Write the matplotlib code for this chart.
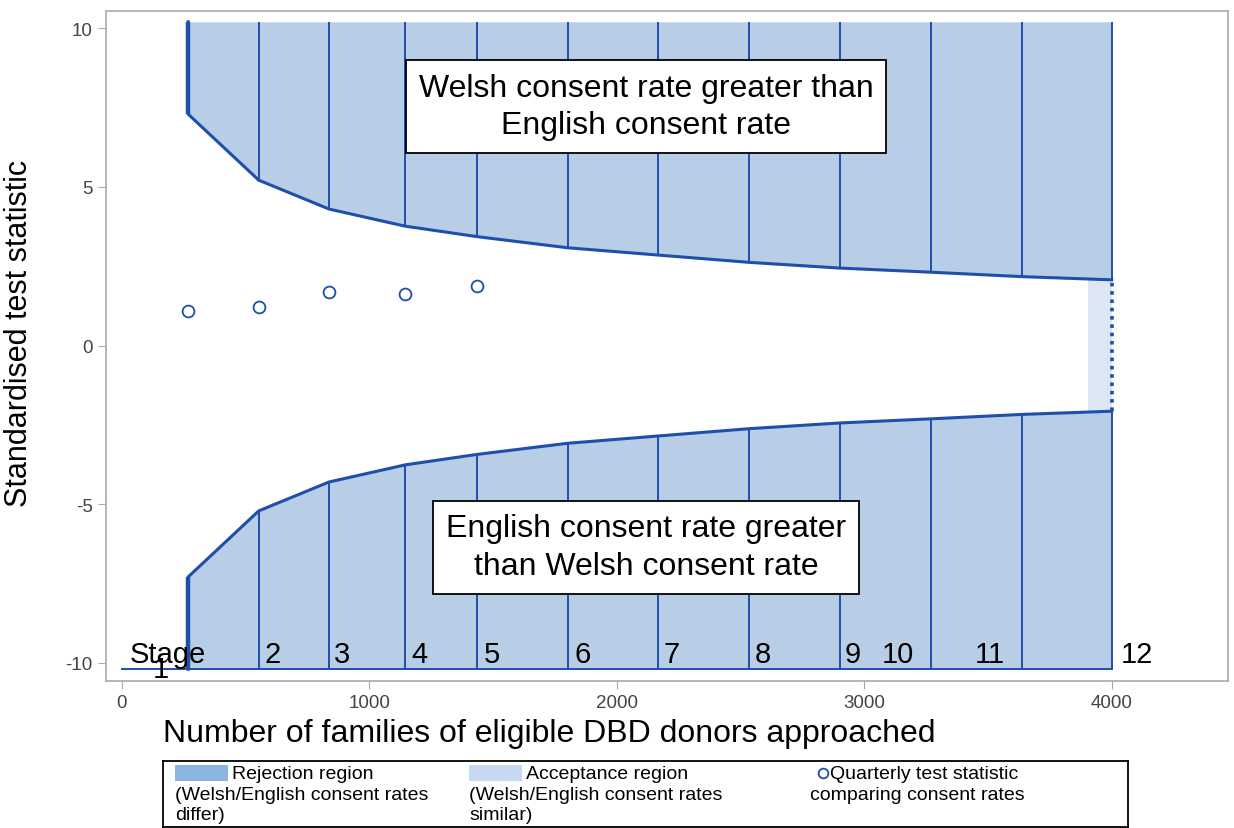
import matplotlib.pyplot as plt
from matplotlib.patches import Rectangle

plt.rcParams['font.family'] = ['Liberation Sans', 'DejaVu Sans']
plt.rcParams['axes.unicode_minus'] = False

# stage boundaries (number of families approached) and critical values
stage_x = [269, 554, 838, 1146, 1437, 1802, 2168, 2536, 2902, 3270, 3639, 4000]
upper_bound = [7.29, 5.21, 4.30, 3.76, 3.43, 3.08, 2.85, 2.62, 2.44, 2.31, 2.17, 2.07]
lower_bound = [-v for v in upper_bound]

# quarterly test statistics
obs_x = [269, 554, 838, 1146, 1437]
obs_z = [1.10, 1.22, 1.69, 1.61, 1.86]

# acceptance region at final stage
accept_x = [3904, 4000]

stage_labels = ['Stage', '1', '2', '3', '4', '5', '6', '7', '8', '9', '10', '11', '12']
stage_label_x = [34, 126, 579, 858, 1169, 1464, 1828, 2191, 2559, 2922, 3072, 3448, 4038]

y_edge = 10.2
fill_col = '#b8cee6'
line_col = '#1f4eab'

fig = plt.figure(figsize=(12.34, 8.29), dpi=100)
ax = fig.add_axes([106/1234, 1-682/829, (1228-106)/1234, (682-12)/829])

# rejection regions
ax.fill_between(stage_x, upper_bound, y_edge, color=fill_col, lw=0)
ax.fill_between(stage_x, lower_bound, -y_edge, color=fill_col, lw=0)
ax.fill_between(accept_x, [-upper_bound[-1]] * 2, [upper_bound[-1]] * 2, color='#dde7f3', lw=0)

ax.plot([stage_x[0]] + stage_x, [y_edge] + upper_bound, color=line_col, lw=2.2)
ax.plot([stage_x[0]] + stage_x, [-y_edge] + lower_bound, color=line_col, lw=2.2)
ax.vlines(stage_x[0], upper_bound[0], y_edge, color=line_col, lw=3.2)
ax.vlines(stage_x[0], -y_edge, lower_bound[0], color=line_col, lw=3.2)
ax.vlines(stage_x[1:], upper_bound[1:], y_edge, color=line_col, lw=1.4)
ax.vlines(stage_x[1:], -y_edge, lower_bound[1:], color=line_col, lw=1.4)
ax.plot([0, stage_x[-1]], [-y_edge, -y_edge], color=line_col, lw=1.4)
ax.plot([stage_x[-1], stage_x[-1]], [lower_bound[-1], upper_bound[-1]],
        color=line_col, lw=2.6, ls=(0, (1, 1.3)))

ax.plot(obs_x, obs_z, 'o', mfc='white', mec=line_col, mew=1.3, ms=8.5)

for lab, lx in zip(stage_labels, stage_label_x):
    ly = -10.44 if lab == '1' else -9.97
    ax.text(lx, ly, lab, fontsize=21, fontweight='medium', ha='left', va='baseline', zorder=5)

box = dict(boxstyle='square,pad=0.4', fc='white', ec='black', lw=1.3)
ax.text(2119, 7.54, 'Welsh consent rate greater than\nEnglish consent rate',
        fontsize=23, ha='center', va='center', bbox=box, linespacing=1.32)
ax.text(2119, -6.35, 'English consent rate greater\nthan Welsh consent rate',
        fontsize=23, ha='center', va='center', bbox=box, linespacing=1.32)

ax.set_xlim(-63, 4470)
ax.set_ylim(-10.57, 10.54)
ax.set_xticks([0, 1000, 2000, 3000, 4000])
ax.set_yticks([-10, -5, 0, 5, 10])
ax.tick_params(colors='#aaaaaa', labelcolor='#444444', labelsize=13.5, length=6)
for s in ax.spines.values():
    s.set_color('#b0b0b0')
    s.set_linewidth(1.3)
ax.set_xlabel('Number of families of eligible DBD donors approached', fontsize=23)
ax.xaxis.set_label_coords(0.395, -0.055)
ax.set_ylabel('Standardised test statistic', fontsize=22)
ax.yaxis.set_label_coords(-0.064, 0.52)

# legend panel
lg = fig.add_axes([163/1234, 1-828/829, (1128-163)/1234, (828-762)/829])
lg.set_xlim(163, 1128)
lg.set_ylim(828, 762)
lg.set_xticks([])
lg.set_yticks([])
for s in lg.spines.values():
    s.set_linewidth(1.3)
lg.add_patch(Rectangle((175, 766), 53, 16, color='#8db3e2', lw=0))
lg.add_patch(Rectangle((469, 766), 53, 16, color='#c6d9f1', lw=0))
lg.plot([823], [774], 'o', mfc='white', mec=line_col, mew=1.3, ms=7)
fs = 14
lg.text(232, 775, 'Rejection region', fontsize=fs, va='center')
lg.text(175, 796, '(Welsh/English consent rates', fontsize=fs, va='center')
lg.text(175, 816, 'differ)', fontsize=fs, va='center')
lg.text(526, 775, 'Acceptance region', fontsize=fs, va='center')
lg.text(469, 796, '(Welsh/English consent rates', fontsize=fs, va='center')
lg.text(469, 816, 'similar)', fontsize=fs, va='center')
lg.text(830, 775, 'Quarterly test statistic', fontsize=fs, va='center')
lg.text(810, 796, 'comparing consent rates', fontsize=fs, va='center')

fig.savefig('out.png', dpi=100)
